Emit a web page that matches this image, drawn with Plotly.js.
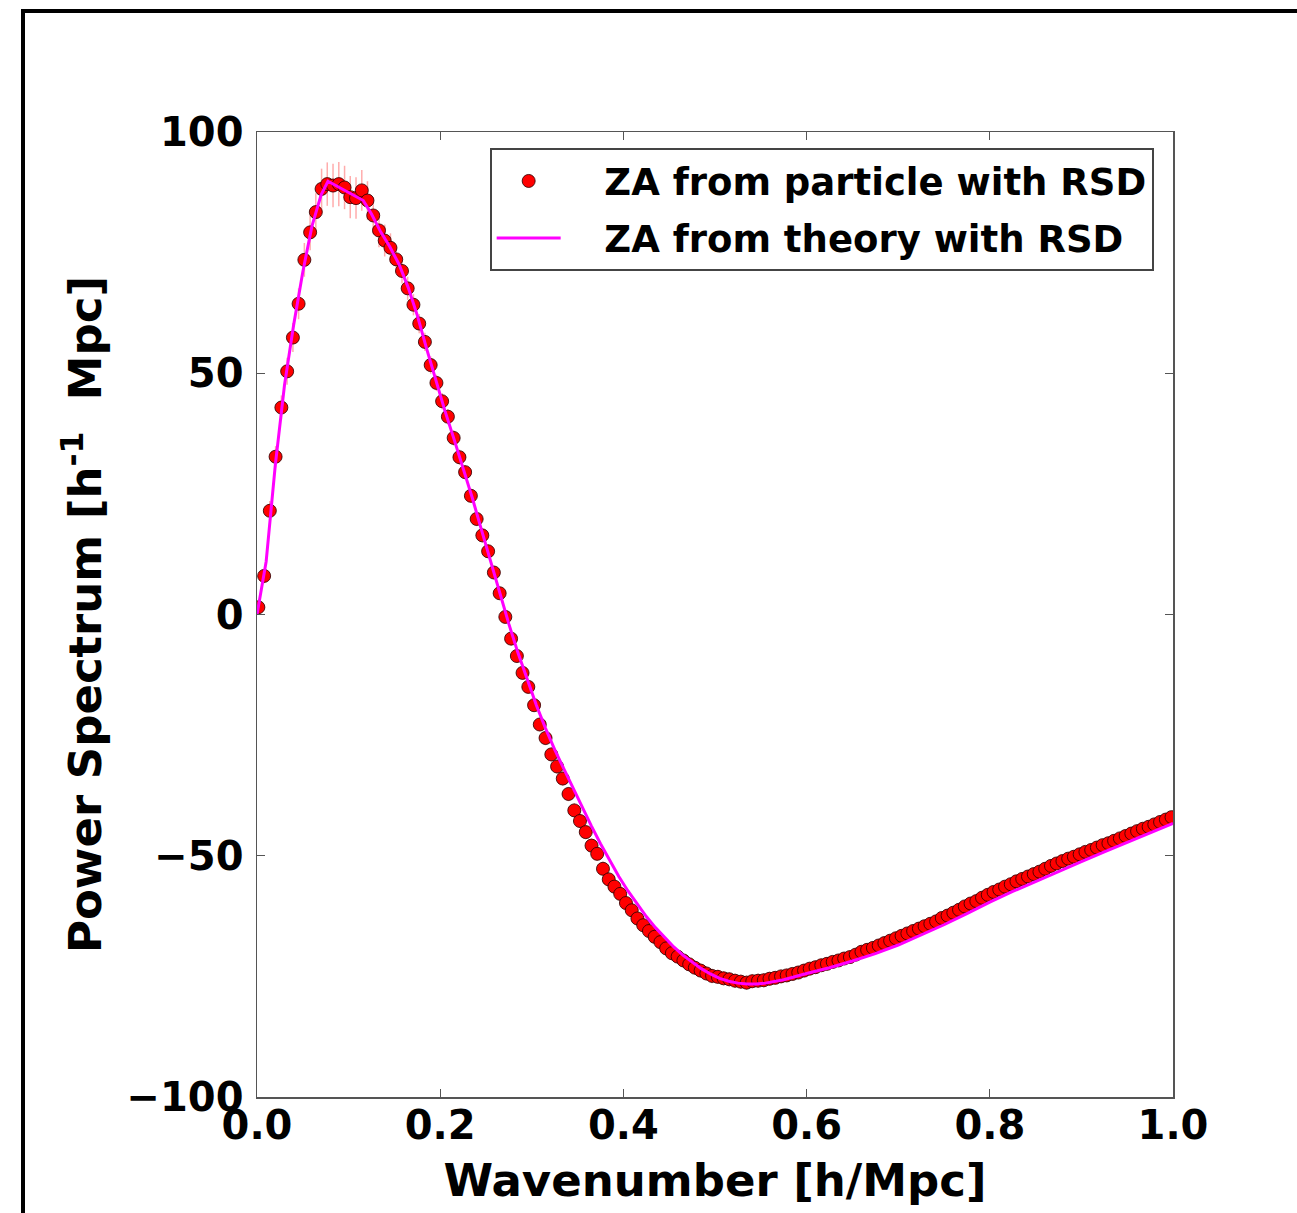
<!DOCTYPE html>
<html>
<head>
<meta charset="utf-8">
<script src="https://cdn.plot.ly/plotly-3.0.1.min.js"></script>
<style>
  html, body { margin: 0; padding: 0; background: #ffffff; }
  #wrap { position: relative; width: 1297px; height: 1213px; overflow: hidden; }
  #chart { position: absolute; left: 0; top: 0; width: 1297px; height: 1213px; }
  #frame { position: absolute; left: 21px; top: 9px; right: -10px; bottom: -10px;
           border-left: 4px solid #000; border-top: 4px solid #000; pointer-events: none; z-index: 5; }
</style>
</head>
<body>
<div id="wrap">
  <div id="chart"></div>
  <div id="frame"></div>
</div>
<script>
// Measured power spectrum (particles, with RSD): wavenumber [h/Mpc]
const kData = [
  0.0015,0.0078,0.0140,0.0203,0.0266,0.0329,0.0392,0.0454,0.0517,0.0580,
  0.0642,0.0705,0.0767,0.0830,0.0893,0.0956,0.1018,0.1081,0.1144,0.1206,
  0.1269,0.1332,0.1394,0.1457,0.1520,0.1583,0.1645,0.1708,0.1771,0.1833,
  0.1896,0.1959,0.2021,0.2084,0.2147,0.2210,0.2272,0.2335,0.2398,0.2460,
  0.2523,0.2586,0.2649,0.2711,0.2774,0.2837,0.2899,0.2962,0.3025,0.3087,
  0.3150,0.3213,0.3276,0.3338,0.3401,0.3464,0.3526,0.3589,0.3652,0.3714,
  0.3777,0.3840,0.3902,0.3965,0.4028,0.4091,0.4153,0.4216,0.4279,0.4341,
  0.4404,0.4467,0.4529,0.4592,0.4655,0.4718,0.4780,0.4843,0.4906,0.4968,
  0.5031,0.5094,0.5156,0.5219,0.5282,0.5345,0.5407,0.5470,0.5533,0.5595,
  0.5658,0.5721,0.5783,0.5846,0.5909,0.5972,0.6034,0.6097,0.6160,0.6222,
  0.6285,0.6348,0.6410,0.6473,0.6536,0.6599,0.6661,0.6724,0.6787,0.6849,
  0.6912,0.6975,0.7037,0.7100,0.7163,0.7226,0.7288,0.7351,0.7414,0.7476,
  0.7539,0.7602,0.7664,0.7727,0.7790,0.7853,0.7915,0.7978,0.8041,0.8103,
  0.8166,0.8229,0.8291,0.8354,0.8417,0.8480,0.8542,0.8605,0.8668,0.8730,
  0.8793,0.8856,0.8918,0.8981,0.9044,0.9107,0.9169,0.9232,0.9295,0.9357,
  0.9420,0.9483,0.9545,0.9608,0.9671,0.9734,0.9796,0.9859,0.9922,0.9984
];
const pData = [
  1.5,8.0,21.5,32.7,42.9,50.4,57.4,64.4,73.5,79.2,
  83.4,88.2,89.2,88.9,89.2,88.5,86.5,86.3,87.9,85.8,
  82.7,79.6,77.5,76.0,73.6,71.2,67.6,64.2,60.3,56.5,
  51.7,48.0,44.2,41.0,36.6,32.6,29.5,24.6,19.8,16.4,
  13.1,8.7,4.4,-0.5,-5.0,-8.6,-12.1,-15.0,-18.8,-22.8,
  -25.6,-29.0,-31.5,-34.0,-37.2,-40.6,-42.8,-45.1,-47.9,-49.6,
  -52.7,-54.9,-56.4,-57.9,-59.8,-61.3,-63.0,-64.4,-65.6,-66.8,
  -67.9,-69.2,-70.2,-70.9,-71.7,-72.5,-73.2,-73.8,-74.4,-74.9,
  -75.1,-75.4,-75.6,-75.9,-76.1,-76.3,-76.0,-75.9,-75.8,-75.5,
  -75.3,-75.0,-74.8,-74.5,-74.2,-73.8,-73.4,-73.1,-72.7,-72.4,
  -72.0,-71.7,-71.3,-71.0,-70.5,-69.9,-69.5,-69.1,-68.6,-68.1,
  -67.6,-67.1,-66.6,-66.1,-65.6,-65.1,-64.6,-64.1,-63.6,-62.9,
  -62.4,-61.8,-61.2,-60.5,-59.9,-59.4,-58.7,-58.1,-57.5,-57.0,
  -56.4,-55.9,-55.3,-54.8,-54.3,-53.8,-53.3,-52.7,-52.1,-51.6,
  -51.1,-50.6,-50.2,-49.7,-49.2,-48.8,-48.3,-47.8,-47.4,-46.9,
  -46.4,-45.9,-45.4,-44.9,-44.4,-44.0,-43.5,-43.0,-42.5,-42.0
];
const pErr = [
  1.0,1.5,2.0,2.2,2.5,2.8,3.0,3.2,3.5,3.7,
  3.9,4.2,4.5,4.5,4.6,4.5,4.4,4.3,4.2,4.0,
  3.8,3.5,3.3,3.0,2.8,2.6,2.4,2.2,2.0,1.9,
  1.8,1.7,1.7,1.6,1.6,1.6,1.5,1.5,1.5,1.5,
  1.4,1.4,1.4,1.4,1.4,1.4,1.4,1.4,1.4,1.4,
  1.5,1.5,1.5,1.5,1.5,1.5,1.5,1.5,1.5,1.5,
  1.5,1.5,1.5,1.5,1.5,1.5,1.5,1.5,1.5,1.5,
  1.5,1.5,1.5,1.5,1.5,1.5,1.5,1.5,1.5,1.5,
  1.5,1.5,1.5,1.5,1.5,1.5,1.5,1.5,1.5,1.5,
  1.4,1.4,1.4,1.4,1.4,1.4,1.4,1.4,1.4,1.4,
  1.3,1.3,1.3,1.3,1.3,1.3,1.3,1.3,1.3,1.3,
  1.2,1.2,1.2,1.2,1.2,1.2,1.2,1.2,1.2,1.2,
  1.1,1.1,1.1,1.1,1.1,1.1,1.1,1.1,1.1,1.1,
  1.0,1.0,1.0,1.0,1.0,1.0,1.0,1.0,1.0,1.0,
  1.0,1.0,1.0,1.0,1.0,1.0,1.0,1.0,1.0,1.0,
  1.0,1.0,1.0,1.0,1.0,1.0,1.0,1.0,1.0,1.0
];
// Theory curve (ZA with RSD)
const kTheory = [
  0.0,0.01,0.02,0.03,0.04,0.05,0.06,0.07,0.0775,0.116,
  0.125,0.135,0.145,0.155,0.165,0.175,0.185,0.195,0.205,0.215,
  0.225,0.235,0.245,0.255,0.265,0.275,0.285,0.295,0.305,0.315,
  0.325,0.335,0.345,0.355,0.365,0.375,0.385,0.395,0.405,0.415,
  0.425,0.435,0.445,0.455,0.465,0.475,0.485,0.495,0.505,0.515,
  0.525,0.535,0.545,0.555,0.565,0.575,0.6,0.625,0.65,0.675,
  0.7,0.725,0.75,0.775,0.8,0.825,0.85,0.875,0.9,0.925,
  0.95,0.975,1.0
];
const pTheory = [
  0.0,11.0,31.0,47.5,60.0,71.0,80.5,87.0,89.8,85.8,
  83.0,79.3,76.2,72.6,67.8,62.0,55.2,48.5,42.3,36.4,
  30.5,24.2,17.6,11.0,4.5,-2.0,-8.0,-13.5,-18.8,-23.6,
  -28.0,-32.0,-36.0,-40.0,-43.8,-47.5,-51.0,-54.3,-57.3,-60.0,
  -62.6,-64.9,-67.0,-68.9,-70.6,-72.1,-73.4,-74.5,-75.4,-76.0,
  -76.4,-76.6,-76.6,-76.4,-76.1,-75.7,-74.4,-73.2,-71.8,-70.3,
  -68.5,-66.4,-64.3,-62.0,-59.6,-57.4,-55.3,-53.2,-51.2,-49.2,
  -47.2,-45.2,-43.3
];
const xTicks = [0.0, 0.2, 0.4, 0.6, 0.8, 1.0];
const yTicks = [-100, -50, 0, 50, 100];
const nameData = '\u00a0\u00a0\u00a0ZA from particle with RSD';
const nameTheory = '\u00a0\u00a0\u00a0ZA from theory with RSD';

const FONT = 'DejaVu Sans, Bitstream Vera Sans, Liberation Sans, sans-serif';

const traces = [
  {
    x: kData, y: pData, type: 'scatter', mode: 'markers', name: nameData,
    legendgroup: 'a',
    marker: { color: '#ff0000', size: 13, line: { color: 'rgba(50,0,0,0.85)', width: 1 } },
    error_y: { type: 'data', array: pErr, visible: true, color: 'rgba(255,70,70,0.45)', thickness: 1.5, width: 0 }
  },
  {
    x: kTheory, y: pTheory, type: 'scatter', mode: 'lines', name: nameTheory,
    legendgroup: 'b',
    line: { color: '#ff00ff', width: 3 }
  }
];

const axisCommon = {
  showgrid: false, zeroline: false,
  showline: true, linecolor: '#555', linewidth: 1.5, mirror: 'allticks',
  ticks: 'inside', ticklen: 8, tickwidth: 1.2, tickcolor: '#555',
  tickfont: { family: FONT, size: 40, color: '#000', weight: 'bold' },
  automargin: false
};

const layout = {
  width: 1297, height: 1213,
  margin: { l: 257, r: 124, t: 132, b: 116, pad: 0 },
  paper_bgcolor: '#ffffff', plot_bgcolor: '#ffffff',
  showlegend: true,
  legend: {
    x: 0.254, y: 0.983, xanchor: 'left', yanchor: 'top',
    bgcolor: '#ffffff', bordercolor: '#444', borderwidth: 2,
    font: { family: FONT, size: 37, color: '#000', weight: 'bold' },
    traceorder: 'grouped', tracegroupgap: 6, itemwidth: 64
  },
  xaxis: Object.assign({}, axisCommon, {
    range: [0, 1], tickvals: xTicks, tickformat: '.1f',
    ticklabelstandoff: -8,
    title: { text: 'Wavenumber [h/Mpc]', standoff: 18,
             font: { family: FONT, size: 45, color: '#000', weight: 'bold' } }
  }),
  yaxis: Object.assign({}, axisCommon, {
    range: [-100, 100], tickvals: yTicks,
    ticklabelstandoff: 4,
    title: { text: 'Power Spectrum [h<sup>-1</sup>  Mpc]', standoff: 10,
             font: { family: FONT, size: 45, color: '#000', weight: 'bold' } }
  })
};

Plotly.newPlot('chart', traces, layout, { displayModeBar: false, staticPlot: true });
</script>
</body>
</html>
